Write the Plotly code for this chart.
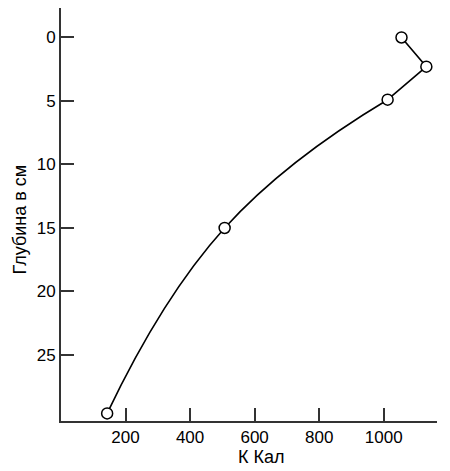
import plotly.graph_objects as go

# energy (K Kal) vs depth (cm)
kcal = [1055, 1132, 1012, 507, 143]
depth = [0, 2.3, 4.9, 15, 29.6]

x_ticks = [200, 400, 600, 800, 1000]
y_ticks = [0, 5, 10, 15, 20, 25]

fig = go.Figure()

# straight part near the surface
fig.add_trace(go.Scatter(x=kcal[:3], y=depth[:3], mode='lines',
                         line=dict(color='black', width=1.6)))
# smooth curve for deeper layers
fig.add_trace(go.Scatter(x=kcal[2:], y=depth[2:], mode='lines',
                         line=dict(color='black', width=1.6, shape='spline', smoothing=1.3)))
# measured points
fig.add_trace(go.Scatter(x=kcal, y=depth, mode='markers',
                         marker=dict(symbol='circle', size=11, color='white',
                                     line=dict(color='black', width=1.5))))

# page body adds 8px around the figure, so the figure is 8px smaller
fig.update_layout(
    width=442, height=463,
    margin=dict(l=53, r=13, t=0, b=50, autoexpand=False),
    paper_bgcolor='white', plot_bgcolor='white',
    showlegend=False,
    font=dict(family="Liberation Sans, Arial", size=17, color='black'),
    xaxis=dict(range=[0, 1165], tickvals=x_ticks, ticks='inside', ticklen=13,
               tickwidth=1.5, tickcolor='#333', showline=True, linewidth=2,
               linecolor='#333', showgrid=False, zeroline=False,
               automargin=False),
    yaxis=dict(range=[30.2, -2.32], tickvals=y_ticks, ticks='inside', ticklen=13,
               tickwidth=1.5, tickcolor='#333', showline=True, linewidth=2,
               linecolor='#333', showgrid=False, zeroline=False,
               automargin=False),
    annotations=[
        dict(text='К Кал', xref='paper', yref='paper', x=0.534, y=-0.087,
             xanchor='center', yanchor='middle', showarrow=False,
             font=dict(size=18)),
        dict(text='Глубина в см', xref='paper', yref='paper', x=-0.109, y=0.488,
             xanchor='center', yanchor='middle', textangle=-90, showarrow=False,
             font=dict(size=18)),
    ],
)

fig.write_html("out.html")
